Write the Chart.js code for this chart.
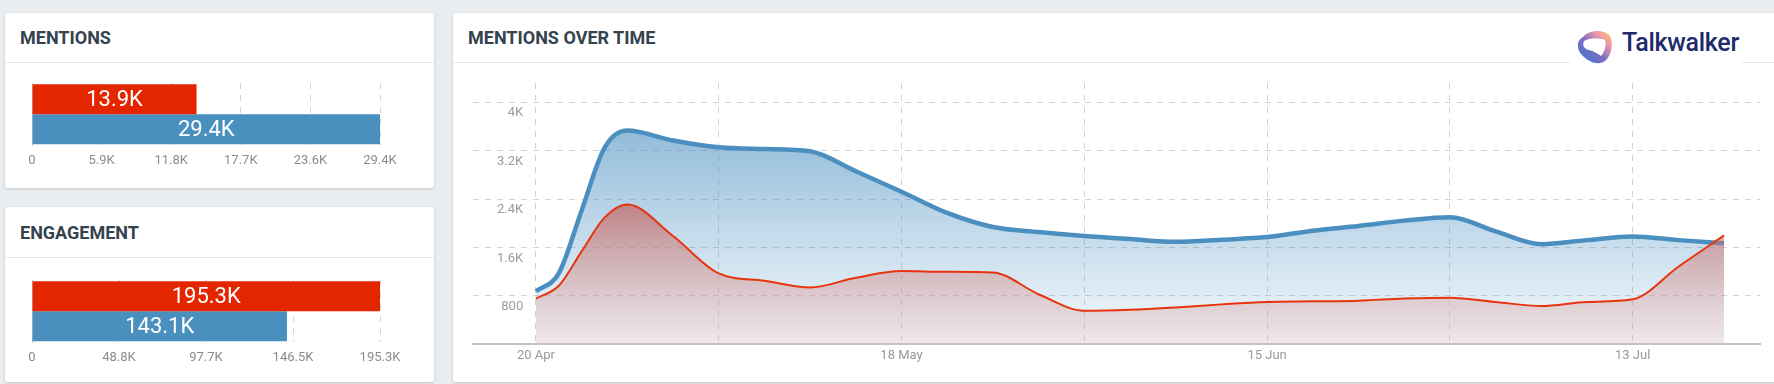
<!DOCTYPE html>
<html><head><meta charset="utf-8">
<script src="https://cdn.jsdelivr.net/npm/chart.js@4.4.0/dist/chart.umd.min.js"></script>
<style>
html,body{margin:0;padding:0;}
body{width:1774px;height:384px;background:#e9edf0;position:relative;overflow:hidden;font-family:Roboto,"Noto Sans",sans-serif;}
.panel{position:absolute;background:#fff;border-radius:3px;box-shadow:0 1px 3px rgba(0,0,0,0.18);}
.hdr{position:absolute;left:0;right:0;top:0;border-bottom:1px solid #e4e8eb;}
.title{position:absolute;left:15px;top:0;font-size:18px;font-weight:700;color:#34434e;}
canvas{position:absolute;}
#logo{position:absolute;left:1570px;top:22px;width:172px;height:42px;background:#fff;}
#logo svg{position:absolute;left:4px;top:5px;}
#logo span{position:absolute;left:52px;top:5px;font-size:25px;font-weight:500;color:#1e2a6b;letter-spacing:-0.3px;line-height:32px;}
</style></head>
<body>
<div class="panel" style="left:5px;top:13px;width:429px;height:175px;">
  <div class="hdr" style="height:49px;"><div class="title" style="line-height:49px;">MENTIONS</div></div>
</div>
<div class="panel" style="left:5px;top:207px;width:429px;height:175px;">
  <div class="hdr" style="height:50px;"><div class="title" style="line-height:52px;">ENGAGEMENT</div></div>
</div>
<div class="panel" style="left:453px;top:13px;width:1340px;height:369px;">
  <div class="hdr" style="height:49px;"><div class="title" style="line-height:49px;">MENTIONS OVER TIME</div></div>
</div>
<canvas id="c1" width="400" height="110" style="left:12px;top:70px;"></canvas>
<canvas id="c2" width="400" height="110" style="left:12px;top:267px;"></canvas>
<canvas id="c3" width="1307" height="300" style="left:463px;top:73px;"></canvas>
<div id="logo">
  <svg width="42" height="42" viewBox="0 0 42 42">
    <defs>
      <linearGradient id="lg" x1="0" y1="1" x2="1" y2="0">
        <stop offset="0" stop-color="#2f7fd0"/>
        <stop offset="0.45" stop-color="#7a6cc4"/>
        <stop offset="0.75" stop-color="#f29aa6"/>
        <stop offset="1" stop-color="#f7c85a"/>
      </linearGradient>
    </defs>
    <path d="M9,10 C15,3 29,2 35,8 C40,13 38,26 33,32 C28,38 20,37 14,33 C8,29 3,24 4,17 C4,14 6,12 9,10 Z" fill="url(#lg)"/>
    <path d="M10,14 C16,10 26,11 31,13 C33,18 30,26 27,29 C24,27 20,24 15,23 C10,22 8,18 10,14 Z" fill="#fff"/>
  </svg>
  <span>Talkwalker</span>
</div>
<script>
// ---- data ----
const mentionsValues = [13900, 29400];
const mentionsTickLabels = ['0', '5.9K', '11.8K', '17.7K', '23.6K', '29.4K'];
const engagementValues = [195300, 143100];
const engagementTickLabels = ['0', '48.8K', '97.7K', '146.5K', '195.3K'];

// days after 20 Apr
const days = [0, 1.75, 3.5, 5.25, 7, 10.5, 14, 17.5, 21, 24.5, 28, 31.5, 35, 38.5, 42, 45.5, 49, 52.5, 56, 59.5, 63, 66.5, 70, 73.5, 77, 80.5, 84, 87.5, 91];
const redMentions = [756, 968, 1536, 2094, 2311, 1790, 1172, 1050, 939, 1100, 1211, 1200, 1189, 828, 556, 572, 611, 661, 700, 711, 722, 756, 772, 700, 633, 700, 744, 1283, 1800];
const blueMentions = [878, 1174, 2213, 3245, 3533, 3367, 3256, 3228, 3189, 2860, 2522, 2172, 1939, 1856, 1789, 1739, 1694, 1728, 1772, 1878, 1956, 2044, 2100, 1867, 1656, 1722, 1783, 1722, 1672];
const xTickDays = [0, 14, 28, 42, 56, 70, 84];
const xTickLabels = ['20 Apr', '', '18 May', '', '15 Jun', '', '13 Jul'];
const yTickValues = [0, 800, 1600, 2400, 3200, 4000];
const yTickLabels = ['', '800', '1.6K', '2.4K', '3.2K', '4K'];

const RED = '#e32600';
const BLUE = '#4a90be';

Chart.defaults.font.family = 'Roboto';
Chart.defaults.animation = false;

const barLabelPlugin = {
  id: 'barLabels',
  afterDatasetsDraw(chart) {
    const ctx = chart.ctx;
    ctx.save();
    ctx.font = '22px Roboto';
    ctx.fillStyle = '#fff';
    ctx.textAlign = 'center';
    ctx.textBaseline = 'middle';
    chart.data.datasets.forEach((ds, di) => {
      chart.getDatasetMeta(di).data.forEach((el, i) => {
        const v = ds.data[i];
        ctx.fillText((v / 1000).toFixed(1) + 'K', (el.x + el.base) / 2, el.y + 1);
      });
    });
    ctx.restore();
  }
};

function barChart(id, values, tickLabels) {
  const max = values[0] > values[1] ? values[0] : values[1];
  new Chart(document.getElementById(id), {
    type: 'bar',
    data: {
      labels: [''],
      datasets: [
        { data: [values[0]], backgroundColor: RED },
        { data: [values[1]], backgroundColor: BLUE }
      ]
    },
    options: {
      indexAxis: 'y',
      responsive: false,
      devicePixelRatio: 1,
      layout: { padding: { left: 20, right: 32, top: 13, bottom: 3 } },
      plugins: { legend: { display: false }, tooltip: { enabled: false } },
      datasets: { bar: { barPercentage: 1, categoryPercentage: 0.96 } },
      scales: {
        x: {
          min: 0, max: max,
          afterBuildTicks(axis) {
            const n = tickLabels.length - 1;
            axis.ticks = tickLabels.map((_, i) => ({ value: max * i / n }));
          },
          ticks: {
            callback: (v, i) => tickLabels[i],
            color: '#8c8c8c', font: { size: 13 }, padding: 8, maxRotation: 0, autoSkip: false
          },
          grid: { color: '#d4d4d4', drawTicks: false, lineWidth: 1 },
          border: { display: false, dash: [6, 6] }
        },
        y: {
          ticks: { display: false },
          grid: { display: false, drawTicks: false },
          border: { display: true, color: '#c8c8c8', width: 1 }
        }
      }
    },
    plugins: [barLabelPlugin]
  });
}

barChart('c1', mentionsValues, mentionsTickLabels);
barChart('c2', engagementValues, engagementTickLabels);

function vGrad(stops) {
  return (context) => {
    const chart = context.chart;
    const area = chart.chartArea;
    if (!area) return null;
    const g = chart.ctx.createLinearGradient(0, area.top, 0, area.bottom);
    stops.forEach(s => g.addColorStop(s[0], s[1]));
    return g;
  };
}

new Chart(document.getElementById('c3'), {
  type: 'line',
  data: {
    datasets: [
      {
        data: days.map((d, i) => ({ x: d, y: redMentions[i] })),
        borderColor: '#e8330f', borderWidth: 2,
        backgroundColor: vGrad([[0, 'rgba(190,60,55,0.68)'], [0.45, 'rgba(198,78,70,0.62)'], [1, 'rgba(225,190,190,0.3)']]),
        fill: 'origin', pointRadius: 0, cubicInterpolationMode: 'monotone'
      },
      {
        data: days.map((d, i) => ({ x: d, y: blueMentions[i] })),
        borderColor: '#4a8fbf', borderWidth: 4.5,
        backgroundColor: vGrad([[0, 'rgba(70,140,190,0.68)'], [0.14, 'rgba(70,140,190,0.62)'], [1, 'rgba(80,150,200,0.05)']]),
        fill: 'origin', pointRadius: 0, cubicInterpolationMode: 'monotone'
      }
    ]
  },
  options: {
    responsive: false,
    devicePixelRatio: 1,
    layout: { padding: { left: 10, right: 10, top: 10, bottom: 5 } },
    plugins: { legend: { display: false }, tooltip: { enabled: false } },
    scales: {
      x: {
        type: 'linear', min: -4.82, max: 93.75,
        afterBuildTicks(axis) { axis.ticks = xTickDays.map(v => ({ value: v })); },
        ticks: { callback: (v, i) => xTickLabels[i], color: '#9a9a9a', font: { size: 13 }, padding: 4, maxRotation: 0, autoSkip: false },
        grid: { color: '#d2d2d2', drawTicks: false, lineWidth: 1 },
        border: { display: true, color: '#c4c4c4', width: 2, dash: [6, 6] }
      },
      y: {
        min: 0, max: 4317,
        afterBuildTicks(axis) { axis.ticks = yTickValues.map(v => ({ value: v })); },
        afterFit(scale) { scale.width = 0; scale.paddingTop = 0; scale.paddingBottom = 0; },
        ticks: { callback: (v, i) => yTickLabels[i], color: '#9a9a9a', font: { size: 13 }, mirror: true, crossAlign: 'far', padding: 24, labelOffset: 11 },
        grid: { color: '#d2d2d2', drawTicks: false, lineWidth: 1 },
        border: { display: false, dash: [6, 6] }
      }
    }
  }
});
</script>
</body></html>
